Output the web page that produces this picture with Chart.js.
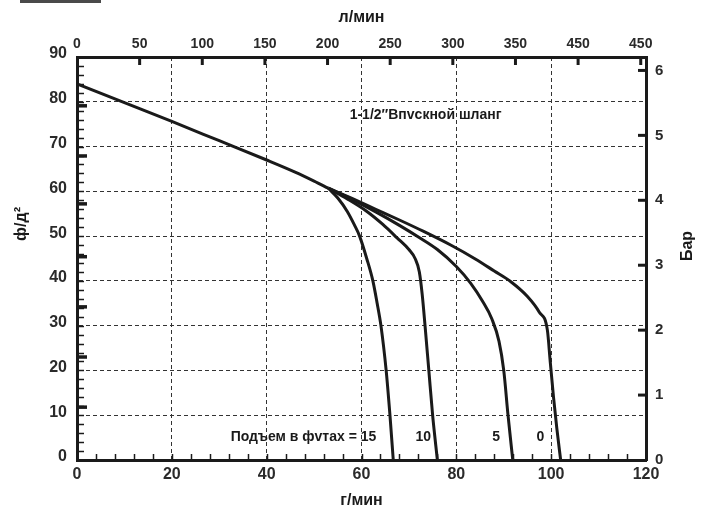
<!doctype html>
<html lang="ru">
<head>
    <meta charset="utf-8">
    <title>1-1/2″ Впускной шланг</title>
    <script src="https://cdn.jsdelivr.net/npm/chart.js@4.4.1/dist/chart.umd.min.js"></script>
    <style>
        html, body { margin: 0; padding: 0; background: #fff; }
        #wrap { position: relative; width: 707px; height: 518px; }
        #tab { position: absolute; left: 20px; top: 0; width: 81px; height: 3px; background: #4a4a4a; }
    </style>
</head>
<body>
<div id="wrap">
    <div id="tab"></div>
    <canvas id="pumpCanvas"></canvas>
</div>

<script>
    // общий участок кривой: г/мин -> ф/д2
    let mainGpm = [0, 10, 20, 30, 40, 46, 50, 53];
    let mainPsi = [84, 79.8, 75.6, 71.3, 67.0, 64.3, 62.3, 60.7];

    // подъем 0 фут
    let lift0Gpm = [53, 58, 63, 68, 73, 79, 84, 88, 91.5, 95, 97.5, 99.2, 99.8, 100.5, 101.2, 102];
    let lift0Psi = [60.7, 58.4, 56, 53.6, 51.1, 47.9, 44.9, 42.2, 39.8, 36.5, 33, 29, 22, 14, 7, 0];

    // подъем 5 фут
    let lift5Gpm = [53, 58, 63, 68, 72, 76, 80, 83, 85.5, 87.5, 89, 90, 90.9, 91.9];
    let lift5Psi = [60.7, 58.2, 55.4, 52.4, 49.8, 47, 43.2, 39.5, 35.5, 31.5, 26.5, 20, 10, 0];

    // подъем 10 фут
    let lift10Gpm = [53, 57, 61, 64.5, 67.5, 70, 71.3, 72.2, 72.8, 73.4, 74.2, 75, 76];
    let lift10Psi = [60.7, 58.3, 55.6, 52.6, 49.6, 47, 45, 42, 37, 30, 20, 10, 0];

    // подъем 15 фут
    let lift15Gpm = [53, 55, 57, 58.5, 59.6, 61.1, 62.4, 63.3, 64.1, 65.2, 66, 66.7];
    let lift15Psi = [60.7, 58.5, 55.5, 52.5, 50, 45, 40, 35, 30, 20, 10, 0];

    // шкалы
    let gpmTicks = [0, 20, 40, 60, 80, 100, 120];
    let psiTicks = [0, 10, 20, 30, 40, 50, 60, 70, 80, 90];
    let lpmTicks = [0, 50, 100, 150, 200, 250, 300, 350, 400, 450];
    let lpmLabels = ['0', '50', '100', '150', '200', '250', '300', '350', '450', '450'];
    let barTicks = [0, 1, 2, 3, 4, 5, 6];
    let liftLabels = ['Подъем в фvтах = 15', '10', '5', '0'];
    let hoseLabel = '1-1/2″Впvскной шланг';

    const GPM_MAX = 120;
    const PSI_MAX = 90;
    const LPM_MAX = GPM_MAX * 3.785;
    const BAR_MAX = PSI_MAX / 14.5;

    const ink = '#1a1a1a';
    const family = "'Liberation Sans', Arial, sans-serif";
    const titleFont = {family: family, size: 16, weight: 'bold'};

    function zip(xs, ys) {
        return xs.map(function (x, i) {
            return {x: x, y: ys[i]};
        });
    }

    function curve(label, xs, ys) {
        return {
            label: label,
            data: zip(xs, ys),
            borderColor: ink,
            borderWidth: 3,
            pointRadius: 0,
            fill: false,
            cubicInterpolationMode: 'monotone',
            xAxisID: 'x',
            yAxisID: 'y'
        };
    }

    function fixedTicks(values) {
        return function (scale) {
            scale.ticks = values.map(function (v) {
                return {value: v};
            });
        };
    }

    // внутренние засечки на рамке
    const innerTicks = {
        id: 'innerTicks',
        afterDatasetsDraw(chart) {
            const {ctx, chartArea: a, scales} = chart;
            ctx.save();
            ctx.strokeStyle = ink;
            function seg(x1, y1, x2, y2, w) {
                ctx.lineWidth = w;
                ctx.beginPath();
                ctx.moveTo(x1, y1);
                ctx.lineTo(x2, y2);
                ctx.stroke();
            }
            for (let v = 4; v < GPM_MAX; v += 4) {
                let px = Math.round(scales.x.getPixelForValue(v)) + 0.5;
                seg(px, a.bottom, px, a.bottom - 6, 1.5);
            }
            for (let v = 2; v < PSI_MAX; v += 2) {
                let py = Math.round(scales.y.getPixelForValue(v)) + 0.5;
                seg(a.left, py, a.left + 7, py, 1.5);
            }
            [11.8, 23, 34.2, 45.4, 57.2, 67.9, 79.1].forEach(function (v) {
                let py = scales.y.getPixelForValue(v);
                seg(a.left, py, a.left + 10, py, 3.5);
            });
            lpmTicks.forEach(function (v) {
                if (v === 0) return;
                let px = scales.x2.getPixelForValue(v);
                seg(px, a.top, px, a.top + 8, 3);
            });
            barTicks.forEach(function (v) {
                if (v === 0) return;
                let py = scales.y2.getPixelForValue(v);
                seg(a.right, py, a.right - 8, py, 3);
            });
            ctx.restore();
        }
    };

    // подписи на поле графика и боковые заголовки
    const notes = {
        id: 'notes',
        afterDatasetsDraw(chart) {
            const {ctx, scales} = chart;
            const sx = scales.x, sy = scales.y;
            ctx.save();
            ctx.font = 'bold 14px ' + family;
            ctx.fillStyle = ink;
            ctx.textBaseline = 'middle';
            ctx.textAlign = 'left';
            ctx.fillText(hoseLabel, sx.getPixelForValue(57.5), sy.getPixelForValue(77));
            let spots = [32.4, 71.4, 87.6, 96.9];
            liftLabels.forEach(function (t, i) {
                ctx.fillText(t, sx.getPixelForValue(spots[i]), sy.getPixelForValue(5.1));
            });

            ctx.textAlign = 'center';
            ctx.font = 'bold 16px ' + family;
            ctx.translate(22, 224);
            ctx.rotate(-Math.PI / 2);
            ctx.fillText('ф/д²', 0, 0);
            ctx.restore();

            ctx.save();
            ctx.fillStyle = ink;
            ctx.textBaseline = 'middle';
            ctx.textAlign = 'center';
            ctx.font = 'bold 16px ' + family;
            ctx.translate(688, 246);
            ctx.rotate(-Math.PI / 2);
            ctx.fillText('Бар', 0, 0);
            ctx.restore();
        }
    };

    let datasets = [
        curve('main', mainGpm, mainPsi),
        curve('0', lift0Gpm, lift0Psi),
        curve('5', lift5Gpm, lift5Psi),
        curve('10', lift10Gpm, lift10Psi),
        curve('15', lift15Gpm, lift15Psi)
    ];

    new Chart(document.getElementById('pumpCanvas'), {
        type: 'line',
        data: {datasets: datasets},
        options: {
            responsive: true,
            maintainAspectRatio: false,
            animation: false,
            layout: {padding: 0},
            plugins: {
                legend: {display: false},
                tooltip: {enabled: false}
            },
            scales: {
                x: {
                    type: 'linear',
                    position: 'bottom',
                    min: 0,
                    max: GPM_MAX,
                    afterBuildTicks: fixedTicks(gpmTicks),
                    afterFit: function (s) { s.height = 58; },
                    grid: {color: '#333', lineWidth: 1, drawTicks: false},
                    border: {color: ink, width: 3, dash: [4, 3]},
                    ticks: {color: '#2a2a2a', font: {family: family, size: 16, weight: 'bold'}, padding: 5, maxRotation: 0},
                    title: {display: true, text: 'г/мин', color: ink, font: titleFont, padding: {top: 0, bottom: 8}}
                },
                x2: {
                    type: 'linear',
                    position: 'top',
                    min: 0,
                    max: LPM_MAX,
                    afterBuildTicks: fixedTicks(lpmTicks),
                    afterFit: function (s) { s.height = 57; },
                    grid: {drawOnChartArea: false, drawTicks: false},
                    border: {color: ink, width: 3},
                    ticks: {
                        color: '#2a2a2a', font: {family: family, size: 14, weight: 'bold'}, padding: 4, maxRotation: 0,
                        callback: function (v, i) { return lpmLabels[i]; }
                    },
                    title: {display: true, text: 'л/мин', color: ink, font: titleFont, padding: {top: 8, bottom: 0}}
                },
                y: {
                    type: 'linear',
                    position: 'left',
                    min: 0,
                    max: PSI_MAX,
                    afterBuildTicks: fixedTicks(psiTicks),
                    afterFit: function (s) { s.width = 77; },
                    grid: {color: '#333', lineWidth: 1, drawTicks: false},
                    border: {color: ink, width: 3, dash: [4, 3]},
                    ticks: {color: '#2a2a2a', font: {family: family, size: 16, weight: 'bold'}, padding: 10, labelOffset: -3},
                    title: {display: false}
                },
                y2: {
                    type: 'linear',
                    position: 'right',
                    min: 0,
                    max: BAR_MAX,
                    afterBuildTicks: fixedTicks(barTicks),
                    afterFit: function (s) { s.width = 61; },
                    grid: {drawOnChartArea: false, drawTicks: false},
                    border: {color: ink, width: 3},
                    ticks: {color: '#2a2a2a', font: {family: family, size: 15, weight: 'bold'}, padding: 9},
                    title: {display: false}
                }
            }
        },
        plugins: [innerTicks, notes]
    });
</script>
</body>
</html>
